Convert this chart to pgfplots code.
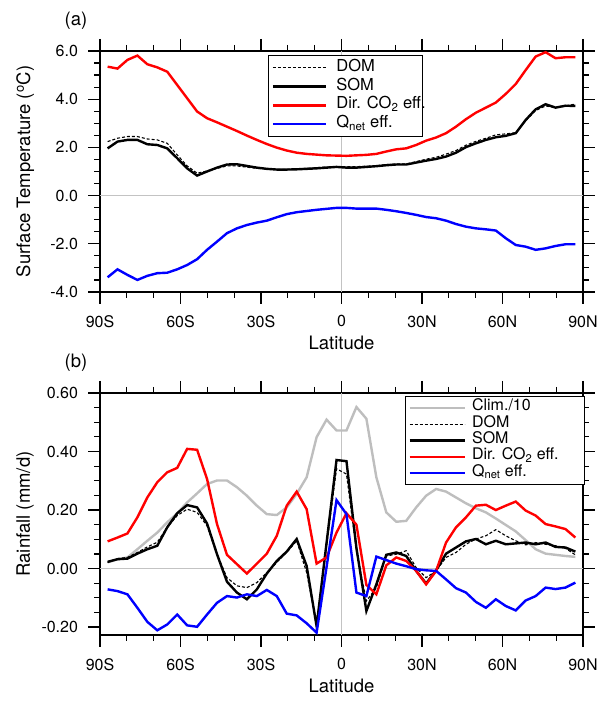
\documentclass[border=0pt]{standalone}
\usepackage{fontspec}
\setmainfont{TeX Gyre Heros}
\usepackage{pgfplots}
\usepackage{pgfplotstable}
\pgfplotsset{compat=1.18}

\pgfplotstableread{
lat dom som dir qnet
-87.159 2.24 1.96 5.35 -3.39
-83.479 2.38 2.24 5.27 -3.06
-79.777 2.45 2.31 5.63 -3.29
-76.070 2.45 2.31 5.81 -3.50
-72.362 2.35 2.13 5.45 -3.33
-68.652 2.31 2.10 5.32 -3.22
-64.942 2.17 1.96 5.14 -3.20
-61.232 1.69 1.55 4.59 -3.06
-57.521 1.23 1.13 4.04 -2.88
-53.810 0.93 0.83 3.49 -2.64
-50.099 1.02 1.00 3.21 -2.25
-46.389 1.13 1.16 3.04 -1.91
-42.678 1.23 1.29 2.86 -1.56
-38.967 1.23 1.30 2.68 -1.36
-35.256 1.18 1.23 2.49 -1.22
-31.545 1.13 1.16 2.31 -1.12
-27.833 1.11 1.11 2.14 -1.04
-24.122 1.09 1.08 1.99 -0.90
-20.411 1.09 1.08 1.87 -0.77
-16.700 1.11 1.09 1.78 -0.69
-12.989 1.13 1.11 1.73 -0.64
-9.278 1.16 1.13 1.70 -0.59
-5.567 1.19 1.16 1.67 -0.55
-1.856 1.20 1.19 1.66 -0.51
1.856 1.20 1.16 1.65 -0.51
5.567 1.20 1.16 1.67 -0.54
9.278 1.22 1.19 1.69 -0.54
12.989 1.24 1.22 1.73 -0.54
16.700 1.29 1.26 1.83 -0.59
20.411 1.31 1.29 1.92 -0.65
24.122 1.31 1.29 1.96 -0.72
27.833 1.41 1.37 2.10 -0.80
31.545 1.51 1.45 2.28 -0.89
35.256 1.59 1.52 2.41 -0.94
38.967 1.72 1.62 2.59 -1.04
42.678 1.87 1.78 2.86 -1.18
46.389 2.09 2.01 3.17 -1.29
50.099 2.25 2.17 3.44 -1.36
53.810 2.38 2.31 3.65 -1.40
57.521 2.52 2.42 3.86 -1.45
61.232 2.56 2.48 4.22 -1.77
64.942 2.61 2.59 4.63 -2.05
68.652 3.11 3.14 5.21 -2.12
72.362 3.53 3.58 5.77 -2.25
76.070 3.72 3.79 5.95 -2.19
79.777 3.65 3.65 5.70 -2.09
83.479 3.72 3.73 5.74 -2.02
87.159 3.80 3.72 5.74 -2.02
}\temptable

\pgfplotstableread{
lat clim dom som dir qnet
-87.159 0.021 0.021 0.023 0.093 -0.071
-83.479 0.032 0.034 0.032 0.106 -0.077
-79.777 0.038 0.038 0.034 0.120 -0.088
-76.070 0.066 0.055 0.051 0.175 -0.134
-72.362 0.095 0.074 0.066 0.243 -0.182
-68.652 0.123 0.090 0.078 0.295 -0.211
-64.942 0.158 0.141 0.141 0.329 -0.191
-61.232 0.189 0.181 0.189 0.344 -0.157
-57.521 0.226 0.203 0.217 0.409 -0.194
-53.810 0.257 0.192 0.209 0.406 -0.199
-50.099 0.289 0.146 0.154 0.306 -0.157
-46.389 0.301 0.049 0.049 0.152 -0.117
-42.678 0.301 -0.031 -0.045 0.047 -0.094
-38.967 0.278 -0.059 -0.082 0.015 -0.099
-35.256 0.249 -0.065 -0.105 -0.017 -0.088
-31.545 0.215 -0.048 -0.071 0.017 -0.094
-27.833 0.186 -0.014 -0.017 0.051 -0.073
-24.122 0.183 0.021 0.026 0.112 -0.094
-20.411 0.209 0.055 0.058 0.215 -0.154
-16.700 0.255 0.095 0.101 0.263 -0.160
-12.989 0.312 -0.014 0.009 0.203 -0.187
-9.278 0.449 -0.191 -0.197 0.017 -0.219
-5.567 0.509 0.075 0.088 0.038 0.005
-1.856 0.472 0.341 0.371 0.123 0.234
1.856 0.472 0.323 0.367 0.189 0.186
5.567 0.552 0.060 0.070 0.150 -0.082
9.278 0.512 -0.111 -0.145 -0.056 -0.094
12.989 0.312 -0.065 -0.054 -0.088 0.041
16.700 0.192 0.043 0.047 0.011 0.029
20.411 0.160 0.049 0.055 0.038 0.017
24.122 0.163 0.061 0.043 0.026 0.008
27.833 0.209 0.003 -0.008 -0.008 -0.002
31.545 0.249 -0.031 -0.051 -0.054 -0.006
35.256 0.272 -0.008 -0.006 -0.008 -0.008
38.967 0.263 0.038 0.051 0.089 -0.037
42.678 0.243 0.055 0.072 0.141 -0.067
46.389 0.223 0.083 0.093 0.175 -0.082
50.099 0.206 0.101 0.101 0.215 -0.114
53.810 0.192 0.112 0.083 0.218 -0.134
57.521 0.171 0.133 0.095 0.200 -0.105
61.232 0.149 0.112 0.083 0.215 -0.128
64.942 0.127 0.095 0.086 0.229 -0.143
68.652 0.097 0.081 0.089 0.198 -0.109
72.362 0.066 0.089 0.083 0.181 -0.094
76.070 0.051 0.083 0.089 0.152 -0.065
79.777 0.047 0.078 0.074 0.144 -0.070
83.479 0.043 0.069 0.072 0.135 -0.065
87.159 0.040 0.047 0.058 0.106 -0.048
}\rainfall

\definecolor{climgray}{RGB}{190,190,190}
\definecolor{zerogray}{RGB}{195,195,195}

\pgfplotsset{
  panel/.style={
    scale only axis,
    width=483pt,
    xmin=-90, xmax=90,
    xtick={-90,-60,-30,0,30,60,90},
    xticklabels={90S,60S,30S,0,30N,60N,90N},
    minor x tick num=2,
    minor y tick num=3,
    tick align=outside,
    major tick length=12pt,
    minor tick length=6pt,
    axis line style={line width=1.5pt},
    every tick/.style={black, line width=1.2pt},
    tick label style={font=\fontsize{16}{16}\selectfont},
    /pgf/number format/assume math mode=true,
    xticklabel shift=8pt,
    yticklabel shift=6.5pt,
    xlabel={Latitude},
    label style={font=\fontsize{18.5}{18.5}\selectfont},
    xlabel style={at={(axis description cs:0.5,0)}, anchor=center, yshift=-51pt},
    ylabel style={at={(axis description cs:-0.155,0.5)}, anchor=center},
    legend cell align=left,
  },
  dashline/.style={black, line width=1.1pt, dash pattern=on 3pt off 2pt},
  solidline/.style={line width=2.4pt},
}

\begin{document}
\begin{tikzpicture}
\begin{axis}[panel,
  at={(100pt,411pt)}, anchor=south west,
  height=241pt,
  ymin=-4, ymax=6,
  ytick={-4,-2,0,2,4,6},
  yticklabel style={/pgf/number format/fixed, /pgf/number format/fixed zerofill, /pgf/number format/precision=1},
  ylabel={Surface Temperature (\textsuperscript{o}C)},
  legend image code/.code={\draw[#1] (0pt,0pt) -- (53pt,0pt);},
  legend style={at={(rel axis cs:0.348,0.983)}, anchor=north west, draw=black, line width=1pt,
    font=\fontsize{16.5}{16.5}\selectfont, inner sep=3pt, column sep=8pt,
    nodes={inner sep=1.35pt, text height=11.5pt, text depth=4.5pt}},
]
\addplot[zerogray, line width=0.8pt, forget plot] coordinates {(0,-4) (0,6)};
\addplot[zerogray, line width=0.8pt, forget plot] coordinates {(-90,0) (90,0)};
\addplot[dashline] table[x=lat, y=dom] {\temptable};
\addplot[solidline, black] table[x=lat, y=som] {\temptable};
\addplot[solidline, red] table[x=lat, y=dir] {\temptable};
\addplot[solidline, blue] table[x=lat, y=qnet] {\temptable};
\legend{DOM, SOM, \makebox[82pt][l]{Dir. CO\textsubscript{2} eff.}, Q\textsubscript{net} eff.}
\end{axis}

\begin{axis}[panel,
  at={(100pt,68pt)}, anchor=south west,
  height=242pt,
  ymin=-0.227, ymax=0.6,
  ytick={-0.2,0,0.2,0.4,0.6},
  yticklabel style={/pgf/number format/fixed, /pgf/number format/fixed zerofill, /pgf/number format/precision=2},
  ylabel={Rainfall (mm/d)},
  legend image code/.code={\draw[#1] (0pt,0pt) -- (55pt,0pt);},
  legend style={at={(rel axis cs:1,0.988)}, xshift=2pt, anchor=north east, draw=black, line width=1pt,
    font=\fontsize{16}{16}\selectfont, inner sep=3.25pt, column sep=5pt,
    nodes={inner sep=1.15pt, text height=10pt, text depth=4pt}},
]
\addplot[zerogray, line width=0.8pt, forget plot] coordinates {(0,-0.227) (0,0.6)};
\addplot[zerogray, line width=0.8pt, forget plot] coordinates {(-90,0) (90,0)};
\addplot[solidline, climgray] table[x=lat, y=clim] {\rainfall};
\addplot[dashline] table[x=lat, y=dom] {\rainfall};
\addplot[solidline, black] table[x=lat, y=som] {\rainfall};
\addplot[solidline, red] table[x=lat, y=dir] {\rainfall};
\addplot[solidline, blue] table[x=lat, y=qnet] {\rainfall};
\legend{\makebox[108pt][l]{Clim./10}, DOM, SOM, Dir. CO\textsubscript{2} eff., Q\textsubscript{net} eff.}
\end{axis}

\node[font=\fontsize{18.5}{18.5}\selectfont] at (76pt,682.5pt) {(a)};
\node[font=\fontsize{18.5}{18.5}\selectfont] at (76pt,340pt) {(b)};

\pgfresetboundingbox
\useasboundingbox (0pt,0pt) rectangle (601pt,703pt);
\end{tikzpicture}
\end{document}
